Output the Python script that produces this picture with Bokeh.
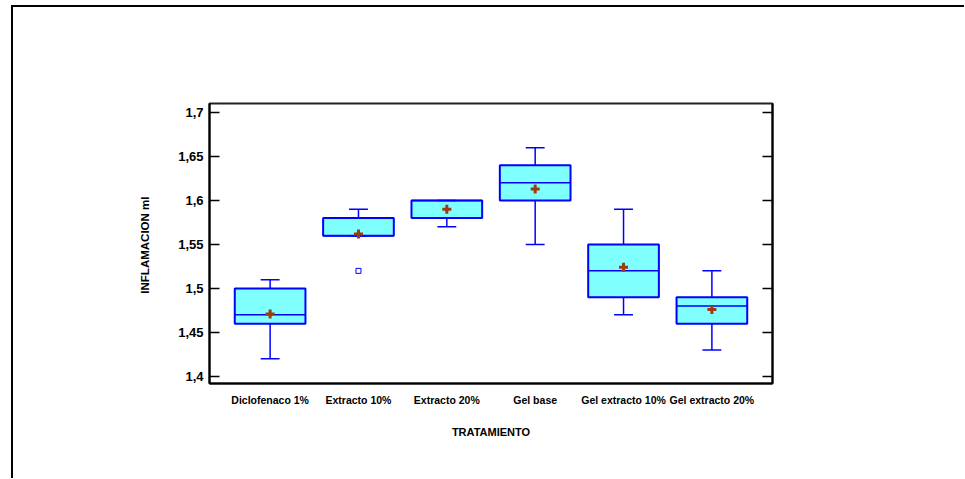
from bokeh.plotting import figure
from bokeh.models import (ColumnDataSource, FactorRange, FixedTicker, LinearAxis,
                          Range1d)
from bokeh.transform import dodge
from bokeh.embed import file_html
from bokeh.resources import INLINE

# ---- data ----
categories = ["Diclofenaco 1%", "Extracto 10%", "Extracto 20%", "Gel base",
              "Gel extracto 10%", "Gel extracto 20%"]
lower_whisker = [1.42, 1.56, 1.57, 1.55, 1.47, 1.43]
q1 = [1.46, 1.56, 1.58, 1.60, 1.49, 1.46]
median = [1.47, 1.56, 1.60, 1.62, 1.52, 1.48]
q3 = [1.50, 1.58, 1.60, 1.64, 1.55, 1.49]
upper_whisker = [1.51, 1.59, 1.60, 1.66, 1.59, 1.52]
means = [1.471, 1.562, 1.590, 1.613, 1.524, 1.476]
outlier_cats = ["Extracto 10%"]
outlier_vals = [1.52]
y_ticks = [1.4, 1.45, 1.5, 1.55, 1.6, 1.65, 1.7]
y_tick_labels = ["1,4", "1,45", "1,5", "1,55", "1,6", "1,65", "1,7"]

FONT = "Liberation Sans"
BLUE = "#0000FF"

src = ColumnDataSource(dict(cat=categories, lo=lower_whisker, q1=q1, med=median,
                            q3=q3, hi=upper_whisker, mean=means))

p = figure(x_range=FactorRange(*categories, range_padding=0.062),
           y_range=Range1d(1.392, 1.7102),
           frame_width=563, frame_height=280,
           min_border_left=196, min_border_top=96,
           min_border_right=192, min_border_bottom=95,
           output_backend="svg", toolbar_location=None, tools="")
p.styles = {"margin-top": "5px", "margin-left": "11px",
            "border-top": "2px solid black", "border-left": "2px solid black"}

p.grid.visible = False
p.outline_line_color = "#222222"
p.outline_line_width = 2
p.background_fill_color = "white"
p.border_fill_color = "white"

# whisker stems
p.segment(x0="cat", y0="q3", x1="cat", y1="hi", source=src, line_color=BLUE, line_width=1.5)
p.segment(x0="cat", y0="q1", x1="cat", y1="lo", source=src, line_color=BLUE, line_width=1.5)
# boxes
p.vbar(x="cat", bottom="q1", top="q3", width=0.8, source=src,
       fill_color="#80FFFF", line_color=BLUE, line_width=2)
# medians
p.segment(x0=dodge("cat", -0.4, range=p.x_range), x1=dodge("cat", 0.4, range=p.x_range),
          y0="med", y1="med", source=src, line_color=BLUE, line_width=1.5)
# caps
for col in ("lo", "hi"):
    p.segment(x0=dodge("cat", -0.107, range=p.x_range), x1=dodge("cat", 0.107, range=p.x_range),
              y0=col, y1=col, source=src, line_color=BLUE, line_width=1.5)
# means
p.scatter(x="cat", y="mean", source=src, marker="cross", size=9,
          line_color="#9C3A10", line_width=3)
# outliers
p.scatter(x=outlier_cats, y=outlier_vals, marker="square", size=5,
          fill_color="white", line_color=BLUE, line_width=1)

overrides = {t: l for t, l in zip(y_ticks, y_tick_labels)}

ya = p.yaxis[0]
ya.ticker = FixedTicker(ticks=y_ticks)
ya.major_label_overrides = overrides
ya.minor_tick_line_color = None
ya.major_tick_in = 10
ya.major_tick_out = 0
ya.major_tick_line_color = "black"
ya.major_tick_line_width = 1.5
ya.axis_line_color = "black"
ya.axis_line_width = 2
ya.major_label_standoff = 6
ya.major_label_text_font = FONT
ya.major_label_text_font_style = "bold"
ya.major_label_text_font_size = "13px"
ya.major_label_text_color = "black"
ya.axis_label = "INFLAMACION  ml"
ya.axis_label_text_font = FONT
ya.axis_label_text_font_style = "bold"
ya.axis_label_text_font_size = "11.5px"
ya.axis_label_text_color = "black"
ya.axis_label_standoff = 24

ra = LinearAxis(ticker=FixedTicker(ticks=y_ticks))
ra.major_label_text_color = None
ra.major_label_text_font_size = "1px"
ra.minor_tick_line_color = None
ra.major_tick_in = 10
ra.major_tick_out = 0
ra.major_tick_line_color = "black"
ra.major_tick_line_width = 1.5
ra.axis_line_color = "black"
ra.axis_line_width = 2
p.add_layout(ra, "right")

xa = p.xaxis[0]
xa.major_tick_line_color = None
xa.minor_tick_line_color = None
xa.axis_line_color = "black"
xa.axis_line_width = 2
xa.major_label_standoff = 4
xa.major_label_text_font = FONT
xa.major_label_text_font_style = "bold"
xa.major_label_text_font_size = "10.5px"
xa.major_label_text_color = "black"
xa.axis_label = "TRATAMIENTO"
xa.axis_label_text_font = FONT
xa.axis_label_text_font_style = "bold"
xa.axis_label_text_font_size = "11px"
xa.axis_label_text_color = "black"
xa.axis_label_standoff = 17

open("out.html", "w").write(file_html(p, INLINE))
